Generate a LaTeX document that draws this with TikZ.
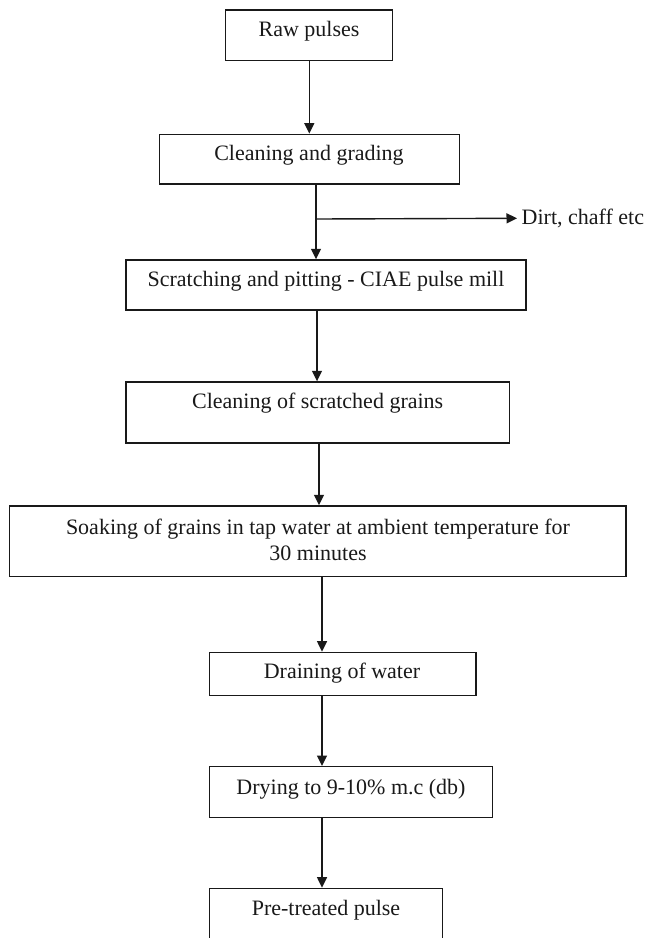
\documentclass[tikz,border=0pt]{standalone}
\usepackage{fontspec}
\setmainfont{Liberation Serif}
\usetikzlibrary{arrows.meta,calc}
\begin{document}
\begin{tikzpicture}[x=1pt,y=-1pt,
  boxnode/.style={draw=black!90,line width=1.4pt,rectangle,inner sep=0pt},
  txt/.style={font=\fontsize{22}{26.7}\selectfont,inner sep=0pt,align=center,text=black!90},
  arr/.style={draw=black!90,line width=1.4pt,-{Triangle[length=10.5pt,width=10pt]}}]
\useasboundingbox (0,0) rectangle (645,938);
% boxes
\node[boxnode,minimum width=167pt,minimum height=50.3pt] (raw) at (309.2,35.2) {};
\node[txt] (rawt) at (309,31.7) {Raw pulses};
\node[boxnode,minimum width=300pt,minimum height=49.7pt] (cg) at (309.3,159.2) {};
\node[txt] (cgt) at (309,155) {Cleaning and grading};
\node[boxnode,minimum width=400pt,minimum height=50pt] (sc) at (326,285) {};
\node[txt] (sct) at (326,281) {Scratching and pitting - CIAE pulse mill};
\node[boxnode,minimum width=383.3pt,minimum height=61pt] (cs) at (317.7,412.5) {};
\node[txt] (cst) at (317.7,403) {Cleaning of scratched grains};
\node[boxnode,minimum width=616.7pt,minimum height=70.7pt] (so) at (317.7,541.3) {};
\node[txt] (sot) at (318,540) {Soaking of grains in tap water at ambient temperature for\\30 minutes};
\node[boxnode,minimum width=266.7pt,minimum height=43pt] (dr) at (342.7,673.8) {};
\node[txt] (drt) at (342,673.3) {Draining of water};
\node[boxnode,minimum width=283pt,minimum height=51pt] (dy) at (350.8,792.2) {};
\node[txt] (dyt) at (351,789) {Drying to 9-10\% m.c (db)};
\node[boxnode,minimum width=233.4pt,minimum height=52pt] (pt) at (326,914.3) {};
\node[txt] (ptt) at (326,910) {Pre-treated pulse};
% side output
\node[txt,anchor=west,inner sep=0pt] (dirt) at (521.5,218.3) {Dirt, chaff etc};
\coordinate (dirtin) at ($(dirt.west)+(-4.5,0)$);
% arrow x positions
\coordinate (a1) at (309.3,0);
\coordinate (a2) at (316,0);
\coordinate (a3) at (317,0);
\coordinate (a4) at (319,0);
\coordinate (a5) at (322,0);
\coordinate (br) at (316,219);
% connectors
\draw[arr] (raw.south -| a1) -- (cg.north -| a1);
\draw[arr] (cg.south -| a2) -- (sc.north -| a2);
\draw[arr] (br) -- (dirtin);
\draw[arr] (sc.south -| a3) -- (cs.north -| a3);
\draw[arr] (cs.south -| a4) -- (so.north -| a4);
\draw[arr] (so.south -| a5) -- (dr.north -| a5);
\draw[arr] (dr.south -| a5) -- (dy.north -| a5);
\draw[arr] (dy.south -| a5) -- (pt.north -| a5);
\end{tikzpicture}
\end{document}
